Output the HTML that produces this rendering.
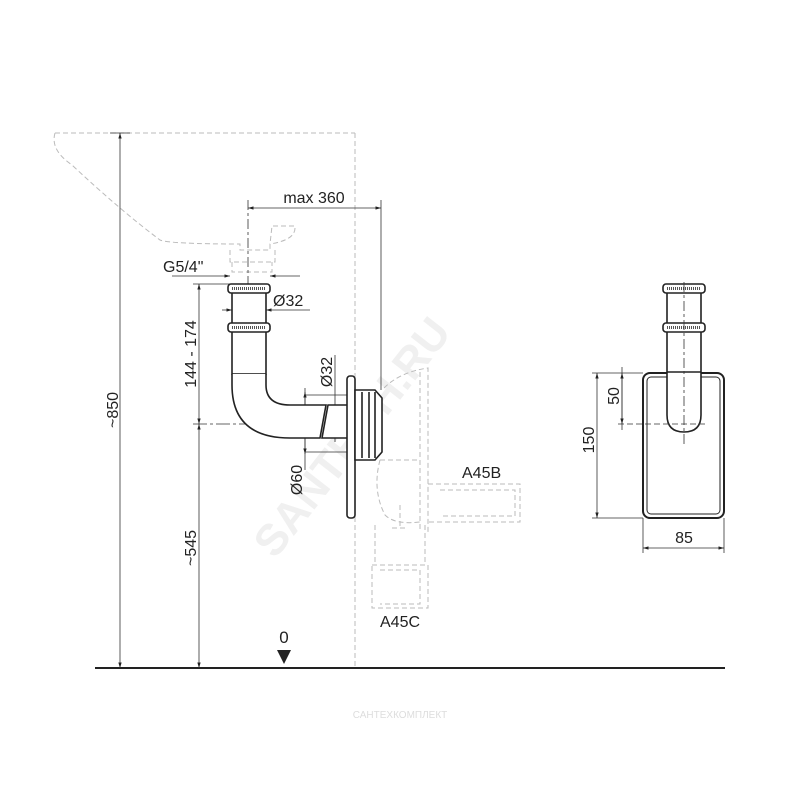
<!DOCTYPE html>
<html><head><style>body{margin:0;background:#fff}svg{display:block}text{font-family:"Liberation Sans",sans-serif;fill:#222}</style></head><body>
<svg width="800" height="800" viewBox="0 0 800 800" xmlns="http://www.w3.org/2000/svg">
<defs><marker id="a" viewBox="0 0 10 10" refX="10" refY="5" markerWidth="7" markerHeight="7" orient="auto-start-reverse"><path d="M0,2L10,5L0,8z" fill="#222"/></marker></defs>
<text x="0" y="0" font-size="44" font-weight="bold" style="fill:#f0f0f0" transform="translate(275,560) rotate(-52)">SANTECH.RU</text>
<g fill="none" stroke="#bbb" stroke-width="1" stroke-dasharray="5,3">
<path d="M55,133 L355,133 M55,133 Q50,150 72,165 Q120,210 160,240 Q170,244 240,244 L240,250 L270,250 L270,244 Q295,240 295,228 L295,226 L272,226 L270,244"/>
<path d="M355,133 L355,668"/>
<path d="M230,250 L230,262 L275,262 L275,250 M232,262 L232,272 L272,272 L272,262"/>
<path d="M384,388 Q400,372 428,368 L428,532 M420,372 L420,530 M380,460 L420,460 L420,500 M380,460 Q372,490 385,515 Q395,525 420,522 M428,484 L520,484 L520,522 L428,522 M440,490 L515,490 L515,516 L440,516"/>
<path d="M375,525 L375,565 M425,525 L425,565 M372,565 L428,565 L428,608 L372,608 Z M380,570 L420,570 L420,604 L380,604"/>
<path d="M400,505 L400,528 M392,528 L408,528"/>
</g>
<line x1="95" y1="668" x2="725" y2="668" stroke="#222" stroke-width="2"/>
<path d="M277,650 L291,650 L284,664 Z" fill="#222"/>
<text x="284" y="643" font-size="17" text-anchor="middle">0</text>
<g stroke="#333" stroke-width="0.8" fill="none">
<line x1="110" y1="133" x2="130" y2="133"/>
<line x1="120" y1="133" x2="120" y2="668" marker-start="url(#a)" marker-end="url(#a)"/>
<line x1="193" y1="284" x2="230" y2="284"/>
<line x1="193" y1="424" x2="380" y2="424" stroke-dasharray="14,3,3,3"/>
<line x1="199" y1="284" x2="199" y2="424" marker-start="url(#a)" marker-end="url(#a)"/>
<line x1="199" y1="424" x2="199" y2="668" marker-start="url(#a)" marker-end="url(#a)"/>
<line x1="248" y1="200" x2="248" y2="390" stroke-dasharray="10,3,3,3"/>
<line x1="381" y1="200" x2="381" y2="390"/>
<line x1="248" y1="208" x2="381" y2="208" marker-start="url(#a)" marker-end="url(#a)"/>
<line x1="172" y1="276" x2="230" y2="276" marker-end="url(#a)"/>
<line x1="270" y1="276" x2="300" y2="276" marker-start="url(#a)"/>
<line x1="222" y1="310" x2="232" y2="310" marker-end="url(#a)"/>
<line x1="266" y1="310" x2="310" y2="310" marker-start="url(#a)"/>
<line x1="305" y1="388" x2="305" y2="470"/><line x1="305" y1="392" x2="305" y2="454" marker-start="url(#a)" marker-end="url(#a)"/>
<line x1="305" y1="395" x2="347" y2="395"/><line x1="305" y1="452" x2="347" y2="452"/>
<line x1="335" y1="355" x2="335" y2="442"/><line x1="335" y1="405" x2="335" y2="438" marker-start="url(#a)" marker-end="url(#a)"/>
</g>
<text font-size="16" transform="translate(118,410) rotate(-90)" text-anchor="middle">~850</text>
<text font-size="16" transform="translate(196,354) rotate(-90)" text-anchor="middle">144 - 174</text>
<text font-size="16" transform="translate(196,548) rotate(-90)" text-anchor="middle">~545</text>
<text x="314" y="203" font-size="16" text-anchor="middle">max 360</text>
<text x="163" y="272" font-size="16">G5/4"</text>
<text x="273" y="306" font-size="16">Ø32</text>
<text font-size="16" transform="translate(332,372) rotate(-90)" text-anchor="middle">Ø32</text>
<text font-size="16" transform="translate(302,480) rotate(-90)" text-anchor="middle">Ø60</text>
<text x="462" y="478" font-size="16">A45B</text>
<text x="380" y="627" font-size="16">A45C</text>
<g stroke="#222" stroke-width="1.6" fill="#fff">
<rect x="232" y="290" width="34" height="84"/>
<rect x="228" y="284" width="42" height="9" rx="3"/><line x1="232" y1="288.5" x2="266" y2="288.5" stroke="#555" stroke-width="3" stroke-dasharray="1,1"/>
<rect x="228" y="323" width="42" height="9" rx="3"/><line x1="232" y1="327.5" x2="266" y2="327.5" stroke="#555" stroke-width="3" stroke-dasharray="1,1"/>
<path d="M232,374 L232,385 Q232,438 290,438 L320,438 L326,405 L290,405 Q266,405 266,385 L266,374"/>
<path d="M328,405 L348,405 L348,438 L322,438 Z"/>
<rect x="347" y="376" width="8" height="142" rx="3"/>
<path d="M355,390 L375,390 L382,398 L382,452 L375,460 L355,460 Z"/>
<line x1="362" y1="392" x2="362" y2="458"/><line x1="369" y1="392" x2="369" y2="458"/><line x1="375" y1="392" x2="375" y2="458"/>
</g>
<g stroke="#222" stroke-width="1.6" fill="#fff">
<rect x="643" y="373" width="81" height="145" rx="7" stroke-width="2"/>
<rect x="647" y="377" width="73" height="137" rx="4" stroke-width="1"/>
<path d="M667,290 L667,415 Q667,432 684,432 Q701,432 701,415 L701,290 Z"/>
<line x1="667" y1="372" x2="701" y2="372"/>
<rect x="663" y="284" width="42" height="9" rx="3"/><line x1="667" y1="288.5" x2="701" y2="288.5" stroke="#555" stroke-width="3" stroke-dasharray="1,1"/>
<rect x="663" y="323" width="42" height="9" rx="3"/><line x1="667" y1="327.5" x2="701" y2="327.5" stroke="#555" stroke-width="3" stroke-dasharray="1,1"/>
</g>
<g stroke="#333" stroke-width="0.8" fill="none">
<line x1="684" y1="282" x2="684" y2="445" stroke-dasharray="10,3,3,3"/>
<line x1="592" y1="373" x2="643" y2="373"/><line x1="592" y1="518" x2="643" y2="518"/>
<line x1="597" y1="373" x2="597" y2="518" marker-start="url(#a)" marker-end="url(#a)"/>
<line x1="618" y1="424" x2="705" y2="424" stroke-dasharray="6,3"/>
<line x1="622" y1="367" x2="622" y2="430"/><line x1="622" y1="373" x2="622" y2="424" marker-start="url(#a)" marker-end="url(#a)"/>
<line x1="643" y1="518" x2="643" y2="553"/><line x1="724" y1="518" x2="724" y2="553"/>
<line x1="643" y1="548" x2="724" y2="548" marker-start="url(#a)" marker-end="url(#a)"/>
</g>
<text font-size="16" transform="translate(594,440) rotate(-90)" text-anchor="middle">150</text>
<text font-size="16" transform="translate(619,396) rotate(-90)" text-anchor="middle">50</text>
<text x="684" y="543" font-size="16" text-anchor="middle">85</text>
<text x="400" y="718" font-size="10" text-anchor="middle" style="fill:#ddd">САНТЕХКОМПЛЕКТ</text>
</svg>
</body></html>
